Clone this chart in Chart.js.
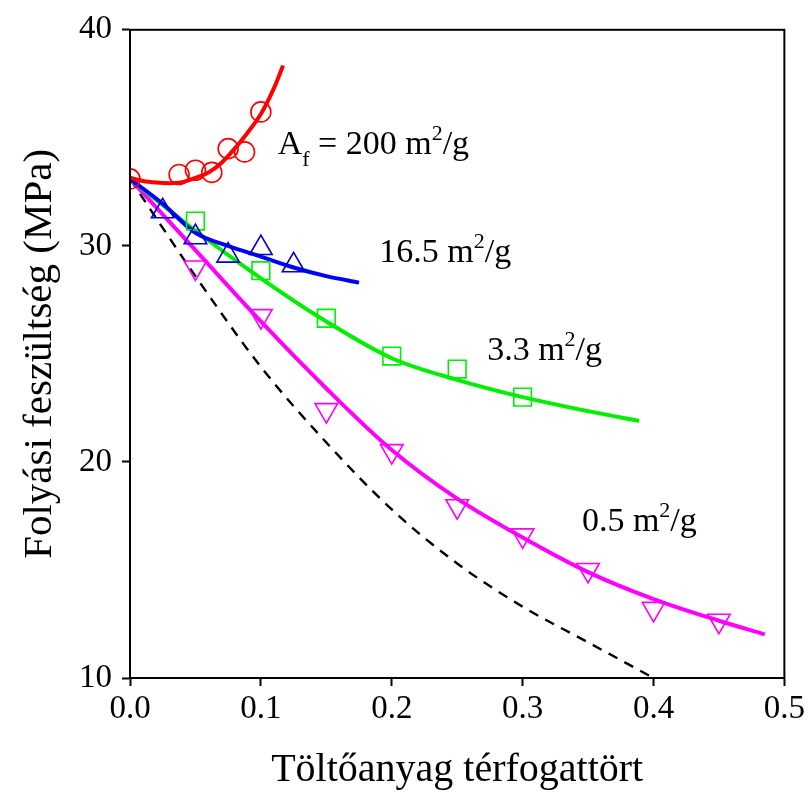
<!DOCTYPE html>
<html>
<head>
<meta charset="utf-8">
<script src="https://cdn.jsdelivr.net/npm/chart.js@4/dist/chart.umd.min.js"></script>
<style>
  html, body { margin: 0; padding: 0; background: #ffffff; }
  #wrap { width: 809px; height: 798px; }
</style>
</head>
<body>
<div id="wrap"><canvas id="yieldChart" width="809" height="798"></canvas></div>
<script>
/* ------------------------------------------------------------
   Measured points, one list per specific surface area
------------------------------------------------------------ */
const xTicks = [0.0, 0.1, 0.2, 0.3, 0.4, 0.5];
const yTicks = [10, 20, 30, 40];

// A_f = 200 m2/g
const x200 = [0, 0.0375, 0.05, 0.0625, 0.075, 0.0875, 0.1];
const y200 = [33.1, 33.3, 33.5, 33.4, 34.5, 34.35, 36.2];
// 16.5 m2/g
const x16 = [0.025, 0.05, 0.075, 0.1, 0.125];
const y16 = [31.6, 30.4, 29.55, 29.9, 29.1];
// 3.3 m2/g
const x33 = [0.05, 0.1, 0.15, 0.2, 0.25, 0.3];
const y33 = [31.15, 28.85, 26.65, 24.9, 24.3, 23.0];
// 0.5 m2/g
const x05 = [0.05, 0.1, 0.15, 0.2, 0.25, 0.3, 0.35, 0.4, 0.45];
const y05 = [29.0, 26.75, 22.4, 20.5, 17.95, 16.6, 15.0, 13.2, 12.65];

/* ------------------------------------------------------------
   Fitted curves
------------------------------------------------------------ */
const fit200x = [0, 0.01, 0.02, 0.03, 0.04, 0.05, 0.06, 0.07, 0.08, 0.09, 0.1, 0.11, 0.117];
const fit200y = [33.15, 33.0, 32.93, 32.9, 32.95, 33.15, 33.4, 33.85, 34.5, 35.25, 36.1, 37.3, 38.35];

const fit16x = [0, 0.025, 0.05, 0.075, 0.1, 0.125, 0.15, 0.175];
const fit16y = [33.1, 31.95, 30.6, 30.0, 29.5, 29.0, 28.6, 28.3];

const fit33x = [0, 0.05, 0.1, 0.15, 0.2, 0.25, 0.3, 0.35, 0.389];
const fit33y = [33.1, 30.7, 28.5, 26.5, 24.8, 23.8, 23.0, 22.35, 21.9];

const fit05x = [0, 0.05, 0.1, 0.15, 0.2, 0.25, 0.3, 0.35, 0.4, 0.45, 0.485];
const fit05y = [33.1, 29.8, 26.5, 23.4, 20.55, 18.3, 16.5, 14.9, 13.65, 12.65, 12.02];

// dashed reference curve
const refX = [0, 0.05, 0.1, 0.15, 0.2, 0.25, 0.3, 0.35, 0.4];
const refY = [33.1, 28.6, 24.4, 20.9, 17.8, 15.3, 13.3, 11.65, 10.0];

function pts(xs, ys) {
    return xs.map((x, i) => ({ x: x, y: ys[i] }));
}

const SERIF = "'Liberation Serif', 'Times New Roman', serif";

/* ------------------------------------------------------------
   Curve labels (rich text with sub/superscripts)
------------------------------------------------------------ */
const curveLabels = [
    { x: 0.1128, y: 34.24, parts: [["A", 0], ["f", 1], [" = 200 m", 0], ["2", -1], ["/g", 0]] },
    { x: 0.1905, y: 29.25, parts: [["16.5 m", 0], ["2", -1], ["/g", 0]] },
    { x: 0.2729, y: 24.73, parts: [["3.3 m", 0], ["2", -1], ["/g", 0]] },
    { x: 0.3453, y: 16.82, parts: [["0.5 m", 0], ["2", -1], ["/g", 0]] }
];

const labelPlugin = {
    id: "curveLabels",
    afterDatasetsDraw(chart) {
        const ctx = chart.ctx;
        const xs = chart.scales.x, ys = chart.scales.y;
        ctx.save();
        ctx.fillStyle = "#000";
        ctx.textBaseline = "alphabetic";
        ctx.textAlign = "left";
        curveLabels.forEach(lb => {
            let px = xs.getPixelForValue(lb.x);
            const py = ys.getPixelForValue(lb.y);
            lb.parts.forEach(([txt, shift]) => {
                const size = shift === 0 ? 34 : 22;
                ctx.font = size + "px " + SERIF;
                const dy = shift === 1 ? 12 : (shift === -1 ? -14 : 0);
                ctx.fillText(txt, px, py + dy);
                px += ctx.measureText(txt).width;
            });
        });
        ctx.restore();
    }
};

// box around the plot area
const framePlugin = {
    id: "frame",
    afterDraw(chart) {
        const a = chart.chartArea, ctx = chart.ctx;
        ctx.save();
        ctx.strokeStyle = "#000";
        ctx.lineWidth = 2;
        ctx.strokeRect(a.left, a.top, a.right - a.left, a.bottom - a.top);
        ctx.restore();
    }
};

const curveStyle = (color, order) => ({
    showLine: true,
    borderColor: color,
    borderWidth: 4,
    pointRadius: 0,
    pointHoverRadius: 0,
    cubicInterpolationMode: "monotone",
    fill: false,
    order: order
});

const markerStyle = (color, style, radius, rotation, order) => ({
    showLine: false,
    pointStyle: style,
    pointRadius: radius,
    pointRotation: rotation,
    pointBorderColor: color,
    pointBackgroundColor: "rgba(0,0,0,0)",
    pointBorderWidth: 1.6,
    order: order
});

new Chart(document.getElementById("yieldChart"), {
    type: "scatter",
    data: {
        datasets: [
            { data: pts(refX, refY), showLine: true, borderColor: "#000", borderWidth: 2.4,
              borderDash: [10, 8], pointRadius: 0, cubicInterpolationMode: "monotone", order: 9 },
            Object.assign({ data: pts(fit05x, fit05y) }, curveStyle("#ff00ff", 8)),
            Object.assign({ data: pts(fit33x, fit33y) }, curveStyle("#00ee00", 7)),
            Object.assign({ data: pts(fit16x, fit16y) }, curveStyle("#0000ff", 6)),
            Object.assign({ data: pts(fit200x, fit200y) }, curveStyle("#ff0000", 5)),
            Object.assign({ data: pts(x05, y05) }, markerStyle("#ff00ff", "triangle", 13, 180, 4)),
            Object.assign({ data: pts(x33, y33) }, markerStyle("#00ee00", "rect", 12.5, 0, 3)),
            Object.assign({ data: pts(x16, y16) }, markerStyle("#0000cc", "triangle", 13, 0, 2)),
            Object.assign({ data: pts(x200, y200) }, markerStyle("#ff0000", "circle", 10, 0, 1))
        ]
    },
    options: {
        responsive: false,
        animation: false,
        events: [],
        layout: { padding: { left: 0, top: 22, right: 23, bottom: 0 } },
        plugins: {
            legend: { display: false },
            tooltip: { enabled: false }
        },
        scales: {
            x: {
                type: "linear",
                min: 0, max: 0.5,
                afterBuildTicks: s => { s.ticks = xTicks.map(v => ({ value: v })); },
                afterFit: s => { s.height = 120; },
                grid: { drawOnChartArea: false, drawTicks: true, tickLength: 8, tickWidth: 2, tickColor: "#000" },
                border: { display: true, color: "#000", width: 2 },
                ticks: {
                    color: "#000", padding: 4, maxRotation: 0,
                    font: { family: SERIF, size: 33 },
                    callback: v => v.toFixed(1)
                },
                title: {
                    display: true, text: "Töltőanyag térfogattört", color: "#000",
                    font: { family: SERIF, size: 40 }, padding: { top: 0, bottom: 4 }
                }
            },
            y: {
                type: "linear",
                min: 10, max: 40,
                afterBuildTicks: s => { s.ticks = yTicks.map(v => ({ value: v })); },
                afterFit: s => { s.width = 130; },
                grid: { drawOnChartArea: false, drawTicks: true, tickLength: 8, tickWidth: 2, tickColor: "#000" },
                border: { display: true, color: "#000", width: 2 },
                ticks: {
                    color: "#000", padding: 10,
                    font: { family: SERIF, size: 33 }
                },
                title: {
                    display: true, text: "Folyási feszültség (MPa)", color: "#000",
                    font: { family: SERIF, size: 41 }, padding: { top: 16, bottom: 0 }
                }
            }
        }
    },
    plugins: [labelPlugin, framePlugin]
});
</script>
</body>
</html>
